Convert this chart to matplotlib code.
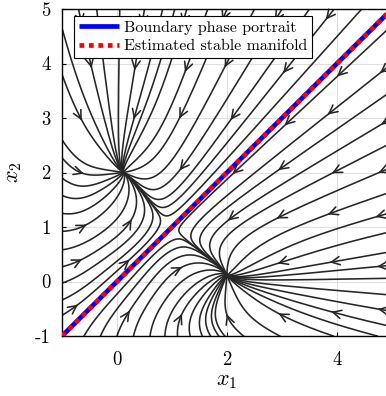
import numpy as np
import matplotlib
matplotlib.use("Agg")
import matplotlib.pyplot as plt

# ── Model: symmetric toggle switch ────────────────────────────────────────────
ALPHA = 2.0
HILL_N = 4

x1_range = [-1, 5]
x2_range = [-1, 5]

# boundary portrait and estimated stable manifold (the diagonal)
boundary_x1 = [-1, 5]
boundary_x2 = [-1, 5]
manifold_x1 = [-1, 5]
manifold_x2 = [-1, 5]

# where the streamlines enter the box
seeds_top = [-0.7, -0.37, 0.05, 0.5, 0.83, 1.05, 1.27, 1.65, 2.0, 2.5, 3.0,
             3.5, 3.95, 4.45]
seeds_bottom = [-0.6, -0.3, 0.0, 0.3, 0.6, 0.87, 1.1, 1.33, 1.55, 1.7, 1.85,
                1.96, 2.3, 2.96, 3.93, 4.73]
seeds_left = [4.65, 3.8, 2.6, 2.27, 1.9, 1.58, 1.25, 0.92, 0.58, 0.27, -0.03,
              -0.34, -0.62]
seeds_right = [4.7, 4.0, 3.5, 3.0, 2.55, 2.1, 1.65, 1.27, 0.92, 0.55, 0.3,
               0.06, -0.25, -0.55, -0.83]

# arrows sit near these grid nodes (like streamslice)
arrow_cols = [-0.6, 0.3, 1.15, 2.05, 2.95, 3.9, 4.75]
arrow_rows = [-0.6, 0.3, 1.1, 2.05, 3.0, 3.9, 4.75]
stable_nodes = [(0.12, 2.0), (2.0, 0.12), (1.0, 1.0)]

x_ticks = [0, 2, 4]
y_ticks = [-1, 0, 1, 2, 3, 4, 5]

plt.rcParams["font.family"] = ["cmr10", "DejaVu Serif"]
plt.rcParams["mathtext.fontset"] = "cm"
plt.rcParams["axes.unicode_minus"] = False

LINE_COLOR = "#262626"


def field(p):
    x, y = p
    return np.array([ALPHA / (1 + y**HILL_N) - x, ALPHA / (1 + x**HILL_N) - y])


def direction(p):
    v = field(p)
    return v / max(np.hypot(*v), 1e-12)


def trace(p0, ds=0.01, nmax=4000):
    p = np.array(p0, dtype=float)
    pts = [p.copy()]
    for _ in range(nmax):
        if np.hypot(*field(p)) < 0.008:
            break
        k1 = direction(p)
        k2 = direction(p + 0.5 * ds * k1)
        k3 = direction(p + 0.5 * ds * k2)
        k4 = direction(p + ds * k3)
        p = p + ds * (k1 + 2 * k2 + 2 * k3 + k4) / 6
        if not (x1_range[0] <= p[0] <= x1_range[1] and x2_range[0] <= p[1] <= x2_range[1]):
            break
        pts.append(p.copy())
    return np.array(pts)


starts = ([(s, x2_range[1]) for s in seeds_top]
          + [(s, x2_range[0]) for s in seeds_bottom]
          + [(x1_range[0], s) for s in seeds_left]
          + [(x1_range[1], s) for s in seeds_right])
lines = [trace(s) for s in starts]

fig = plt.figure(figsize=(3.86, 3.96), dpi=100)
ax = fig.add_axes([62 / 386, 60 / 396, 330 / 386, 327 / 396])

ax.grid(True, color="#e0e0e0", linewidth=0.8, zorder=0)
ax.set_axisbelow(True)

for ln in lines:
    ax.plot(ln[:, 0], ln[:, 1], color=LINE_COLOR, linewidth=1.15, zorder=2)

# one arrow per grid node, on the closest streamline
for gx in arrow_cols:
    for gy in arrow_rows:
        if min(np.hypot(gx - nx, gy - ny) for nx, ny in stable_nodes) < 0.45:
            continue
        best = None
        for ln in lines:
            if len(ln) < 12:
                continue
            d = np.hypot(ln[5:-5, 0] - gx, ln[5:-5, 1] - gy)
            i = int(np.argmin(d))
            if best is None or d[i] < best[0]:
                best = (d[i], ln, i + 5)
        if best is None or best[0] > 0.22:
            continue
        _, ln, i = best
        ax.annotate("", xy=ln[i + 2], xytext=ln[i - 2],
                    arrowprops=dict(arrowstyle="->,head_length=0.6,head_width=0.3",
                                    color=LINE_COLOR, lw=1.15,
                                    shrinkA=0, shrinkB=0, mutation_scale=10),
                    zorder=2)

ax.plot(boundary_x1, boundary_x2, "-", color="#0000ff", linewidth=3.4,
        label="Boundary phase portrait", zorder=3, solid_capstyle="butt")
ax.plot(manifold_x1, manifold_x2, color="#ff0000", linewidth=3.4,
        linestyle=(0, (1, 1)), dash_capstyle="butt",
        label="Estimated stable manifold", zorder=4)

ax.set_xlim(x1_range)
ax.set_ylim(x2_range)
ax.set_xticks(x_ticks)
ax.set_yticks(y_ticks)
ax.tick_params(direction="in", labelsize=13.5, length=3)
ax.tick_params(axis="x", pad=11)
ax.tick_params(axis="y", pad=8)
for s in ax.spines.values():
    s.set_linewidth(1.0)

ax.set_xlabel(r"$x_1$", fontsize=16, labelpad=2)
ax.set_ylabel(r"$x_2$", fontsize=16, labelpad=8)

leg = ax.legend(loc="upper left", bbox_to_anchor=(12 / 330, 1 - 7 / 327),
                borderaxespad=0, fontsize=11.5, fancybox=False,
                framealpha=1, edgecolor="black", borderpad=0.3,
                labelspacing=0.25, handlelength=2.5, handletextpad=0.3)
leg.get_frame().set_linewidth(0.8)
leg.set_zorder(10)

fig.savefig("out.png", dpi=100)
